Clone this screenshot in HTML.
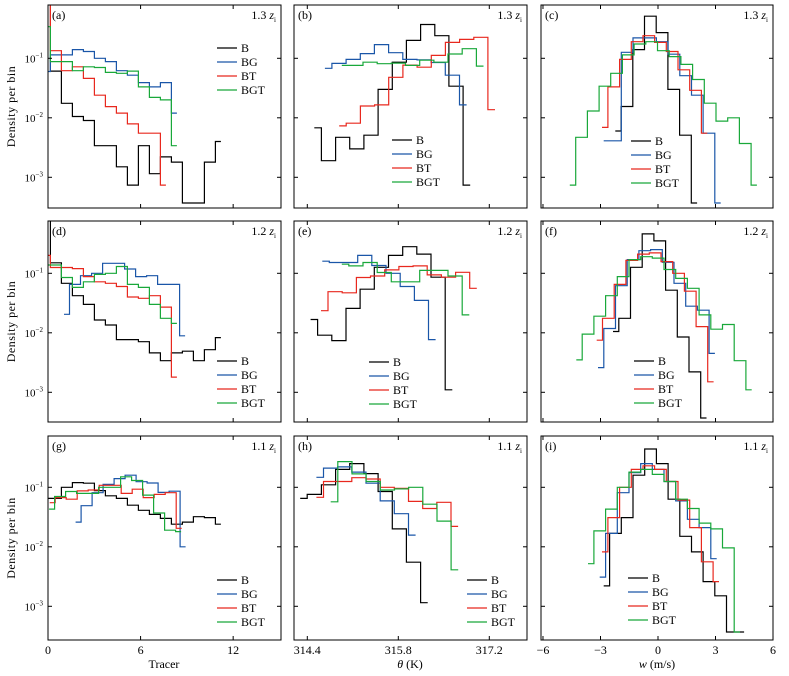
<!DOCTYPE html>
<html><head><meta charset="utf-8">
<style>
html,body{margin:0;padding:0;background:#fff;}
svg{display:block;font-family:"Liberation Serif",serif;}
</style></head>
<body>
<svg id="chart" width="789" height="676" viewBox="0 0 789 676" xmlns="http://www.w3.org/2000/svg"></svg>
<script>
const seriesNames = ["B","BG","BT","BGT"];
const seriesColors = ["#000000","#1a56a8","#e8281e","#19a83a"];
const xTicksTracer = [0,6,12];
const xTicksTheta = [314.4,315.8,317.2];
const xTicksW = [-6,-3,0,3,6];
const yTickExps = [-1,-2,-3];

// panel (a) 1.3 zi, tracer
const a_starts = [-0.2,-0.2,-0.2,-0.2];
const a_B = [2,0.061,0.0175,0.0105,0.009,0.0034,0.0034,0.0015,0.00074,0.0034,0.00115,0.0022,0.0018,0.00037,0.00037,0.0018,0.004];
const a_BG = [0.06,0.114,0.114,0.14,0.13,0.1,0.088,0.062,0.052,0.039,0.033,0.039,0.012];
const a_BT = [2,0.134,0.062,0.072,0.046,0.024,0.0154,0.012,0.0079,0.0055,0.0055,0.00074];
const a_BGT = [0.34,0.088,0.088,0.062,0.072,0.07,0.058,0.056,0.061,0.033,0.022,0.02,0.0034];
// panel (b) 1.3 zi, theta
const b_starts = [314.508,314.67,314.89,314.93];
const b_B = [0.0068,0.0019,0.0047,0.0030,0.0051,0.030,0.086,0.2,0.37,0.24,0.034,0.00074];
const b_BG = [0.068,0.082,0.096,0.12,0.17,0.124,0.096,0.094,0.085,0.052,0.0165];
const b_BT = [0.0073,0.0081,0.0158,0.0165,0.048,0.077,0.071,0.112,0.185,0.208,0.225,0.0137];
const b_BGT = [0.076,0.076,0.086,0.081,0.083,0.076,0.093,0.086,0.118,0.145,0.074];
// panel (c) 1.3 zi, w
const c_starts = [-2.23,-2.83,-2.92,-4.6];
const c_B = [0.006,0.0155,0.14,0.51,0.27,0.030,0.0051,0.00037];
const c_BG = [0.0041,0.0041,0.126,0.22,0.22,0.19,0.117,0.051,0.024,0.0055,0.00037];
const c_BT = [0.0069,0.033,0.096,0.19,0.24,0.185,0.13,0.064,0.029,0.0055];
const c_BGT = [0.00074,0.0047,0.013,0.034,0.056,0.114,0.174,0.19,0.134,0.107,0.079,0.044,0.0176,0.0088,0.01,0.0037,0.00074];
// panel (d) 1.2 zi
const d_starts = [-0.2,1.04,-0.2,-0.2];
const d_B = [2,0.15,0.068,0.042,0.030,0.0164,0.0135,0.0077,0.0077,0.0071,0.0046,0.0034,0.0046,0.0049,0.0034,0.0052,0.0083];
const d_BG = [0.0205,0.065,0.091,0.1,0.147,0.147,0.118,0.088,0.091,0.065,0.065,0.0089];
const d_BT = [0.2,0.125,0.125,0.12,0.088,0.072,0.068,0.06,0.04,0.038,0.042,0.027,0.0018];
const d_BGT = [0.138,0.138,0.085,0.058,0.072,0.096,0.1,0.13,0.065,0.058,0.030,0.0175,0.0144];
// panel (e)
const e_starts = [314.45,314.63,314.61,314.93];
const e_B = [0.0167,0.0091,0.0074,0.0257,0.054,0.126,0.2,0.28,0.21,0.086,0.0011];
const e_BG = [0.16,0.152,0.152,0.2,0.135,0.1,0.06,0.035,0.0077];
const e_BT = [0.0235,0.049,0.047,0.085,0.09,0.114,0.13,0.133,0.094,0.086,0.104,0.056];
const e_BGT = [0.142,0.133,0.152,0.103,0.072,0.072,0.112,0.112,0.09,0.02];
// panel (f)
const f_starts = [-2.35,-3.13,-3.2,-4.26];
const f_B = [0.0105,0.0175,0.126,0.46,0.35,0.052,0.0085,0.0022,0.00037];
const f_BG = [0.0026,0.0118,0.062,0.17,0.24,0.25,0.153,0.068,0.028,0.024,0.0045];
const f_BT = [0.0075,0.0175,0.065,0.165,0.21,0.22,0.157,0.1,0.05,0.0127,0.0015];
const f_BGT = [0.0035,0.0095,0.019,0.042,0.088,0.17,0.19,0.18,0.116,0.082,0.056,0.02,0.0115,0.0138,0.0034,0.0011];
// panel (g) 1.1 zi
const g_starts = [-0.2,1.79,0.11,0.07];
const g_B = [0.065,0.065,0.1,0.12,0.117,0.088,0.072,0.065,0.05,0.041,0.035,0.030,0.024,0.026,0.032,0.031,0.024];
const g_BG = [0.026,0.049,0.081,0.112,0.14,0.16,0.124,0.118,0.082,0.086,0.01];
const g_BT = [0.055,0.067,0.063,0.087,0.09,0.108,0.108,0.079,0.093,0.067,0.076,0.081,0.0205];
const g_BGT = [0.043,0.07,0.085,0.079,0.079,0.1,0.1,0.15,0.13,0.074,0.037,0.019,0.018];
// panel (h)
const h_starts = [314.29,314.54,314.54,314.76];
const h_B = [0.065,0.076,0.11,0.2,0.25,0.17,0.085,0.02,0.0055,0.00115];
const h_BG = [0.147,0.21,0.22,0.18,0.117,0.059,0.036,0.0157];
const h_BT = [0.068,0.125,0.125,0.145,0.138,0.1,0.096,0.058,0.044,0.056,0.022];
const h_BGT = [0.057,0.27,0.168,0.125,0.09,0.094,0.1,0.052,0.027,0.0041];
// panel (i)
const i_starts = [-2.83,-3.04,-2.92,-3.65];
const i_B = [0.0022,0.0168,0.031,0.16,0.44,0.25,0.063,0.015,0.0082,0.0026,0.0015,0.00037,0.00037];
const i_BG = [0.0031,0.0168,0.081,0.176,0.25,0.2,0.125,0.059,0.029,0.021,0.0063];
const i_BT = [0.0082,0.031,0.1,0.2,0.23,0.2,0.125,0.061,0.021,0.0056,0.0026];
const i_BGT = [0.0052,0.0185,0.043,0.1,0.18,0.2,0.165,0.125,0.063,0.044,0.025,0.02,0.0096,0.00037];
const binWidths = [0.713,0.218,0.61];
const heightLabels = ["1.3","1.2","1.1"];

const NS = "http://www.w3.org/2000/svg";
const svg = document.getElementById("chart");
function mk(tag, attrs, parent){const e=document.createElementNS(NS,tag);for(const k in attrs)e.setAttribute(k,attrs[k]);(parent||svg).appendChild(e);return e;}

const cols = [
  {x0:48,x1:281,ref:0,px:15.43,ticks:xTicksTracer,title:"Tracer"},
  {x0:294,x1:527,ref:314.4,px:65,ticks:xTicksTheta,title:"θ (K)"},
  {x0:541,x1:773,ref:0,px:19.17,ticks:xTicksW,title:"w (m/s)"}
];
const rows = [{y0:5,y1:208,ym1:58.3},{y0:221,y1:422,ym1:273.3},{y0:436,y1:640,ym1:487.3}];
const DEC = 59.5;
const panels = [
  ["a",[a_B,a_BG,a_BT,a_BGT],a_starts],["b",[b_B,b_BG,b_BT,b_BGT],b_starts],["c",[c_B,c_BG,c_BT,c_BGT],c_starts],
  ["d",[d_B,d_BG,d_BT,d_BGT],d_starts],["e",[e_B,e_BG,e_BT,e_BGT],e_starts],["f",[f_B,f_BG,f_BT,f_BGT],f_starts],
  ["g",[g_B,g_BG,g_BT,g_BGT],g_starts],["h",[h_B,h_BG,h_BT,h_BGT],h_starts],["i",[i_B,i_BG,i_BT,i_BGT],i_starts]
];
const legendPos = [[217,48],[392,140],[631,141],[217,361],[369,362],[634,361],[217,580],[467,580],[628,578]];

panels.forEach((p, idx) => {
  const r = Math.floor(idx/3), c = idx%3;
  const col = cols[c], row = rows[r];
  const xs = v => col.x0 + (col.ref===0 && c===0 ? 0 : 0) + ((c===1)? (13.3 + (v-col.ref)*col.px) : (c===2 ? (117 + v*col.px) : v*col.px));
  const ys = v => row.ym1 + (-1 - Math.log10(v))*DEC;
  const g = mk("g",{});
  
  
  const cid = "clip"+idx;
  const cp = mk("clipPath",{id:cid},g);
  mk("rect",{x:col.x0,y:row.y0,width:col.x1-col.x0,height:row.y1-row.y0},cp);
  // series
  const sg = mk("g",{"clip-path":"url(#"+cid+")"},g);
  p[1].forEach((vals, si) => {
    const c0 = p[2][si], dc = binWidths[c];
    let d = "M"+xs(c0).toFixed(1)+","+ys(vals[0]).toFixed(1);
    for (let k=1;k<vals.length;k++){
      const xm = xs(c0+(k-0.5)*dc);
      d += " H"+xm.toFixed(1)+" V"+ys(vals[k]).toFixed(1);
    }
    d += " H"+xs(c0+(vals.length-1)*dc).toFixed(1);
    const path = mk("path",{d:d,fill:"none",stroke:seriesColors[si],"stroke-width":1.2},sg);
    
    
  });
  // frame
  const fr = mk("rect",{x:col.x0,y:row.y0,width:col.x1-col.x0,height:row.y1-row.y0,fill:"none",stroke:"#000","stroke-width":1},g);
  
  
  // x ticks
  col.ticks.forEach(t => {
    const x = xs(t);
    if (x < col.x0-1 || x > col.x1+1) return;
    mk("line",{x1:x,x2:x,y1:row.y1,y2:row.y1-4,stroke:"#000"},g);
    mk("line",{x1:x,x2:x,y1:row.y0,y2:row.y0+4,stroke:"#000"},g);
    if (r===2){
      const tl = mk("text",{x:x,y:row.y1+14,"font-size":12,"text-anchor":"middle"},g);
      tl.textContent = (t<0?"−"+(-t):String(t));
      
      
    }
  });
  // y ticks
  yTickExps.forEach(e => {
    const y = ys(Math.pow(10,e));
    mk("line",{x1:col.x0,x2:col.x0+4,y1:y,y2:y,stroke:"#000"},g);
    mk("line",{x1:col.x1,x2:col.x1-4,y1:y,y2:y,stroke:"#000"},g);
    if (c===0){
      const tl = mk("text",{x:col.x0-5,y:y+4,"font-size":11,"text-anchor":"end"},g);
      
      
      tl.appendChild(document.createTextNode("10"));
      const sp = mk("tspan",{dy:-5,"font-size":7},tl); sp.textContent = "−"+(-e);
    }
  });
  // panel label
  const pl = mk("text",{x:col.x0+4,y:row.y0+14,"font-size":12},g);
  pl.textContent = "("+p[0]+")";
  
  
  const hl = mk("text",{x:col.x1-5,y:row.y0+14,"font-size":12,"text-anchor":"end"},g);
  
  
  hl.appendChild(document.createTextNode(heightLabels[r]+" "));
  const z = mk("tspan",{"font-style":"italic"},hl); z.textContent="z";
  const zi = mk("tspan",{"font-size":7,dy:3},hl); zi.textContent="i";
  // legend
  const [lx, ly] = legendPos[idx];
  seriesNames.forEach((n, si) => {
    const lg = mk("g",{},g);
    
    
    mk("line",{x1:lx,x2:lx+20,y1:ly+si*14,y2:ly+si*14,stroke:seriesColors[si],"stroke-width":1.3},lg);
    const t = mk("text",{x:lx+24,y:ly+si*14+4,"font-size":12},lg); t.textContent = n;
  });
});

// axis titles
[0,1,2].forEach(r => {
  const row = rows[r], cy = (row.y0+row.y1)/2;
  const t = mk("text",{x:0,y:0,"font-size":12,"text-anchor":"middle","letter-spacing":"0.5",transform:"translate(15,"+cy+") rotate(-90)"});
  t.textContent = "Density per bin";
  
  
});
const xt1 = mk("text",{x:164,y:668,"font-size":12,"text-anchor":"middle"}); xt1.textContent="Tracer";


const xt2 = mk("text",{x:410,y:668,"font-size":12,"text-anchor":"middle"});


const th = mk("tspan",{"font-style":"italic"},xt2); th.textContent="θ"; xt2.appendChild(document.createTextNode(" (K)"));
const xt3 = mk("text",{x:657,y:668,"font-size":12,"text-anchor":"middle"});


const wv = mk("tspan",{"font-style":"italic"},xt3); wv.textContent="w"; xt3.appendChild(document.createTextNode(" (m/s)"));
</script>
</body></html>
